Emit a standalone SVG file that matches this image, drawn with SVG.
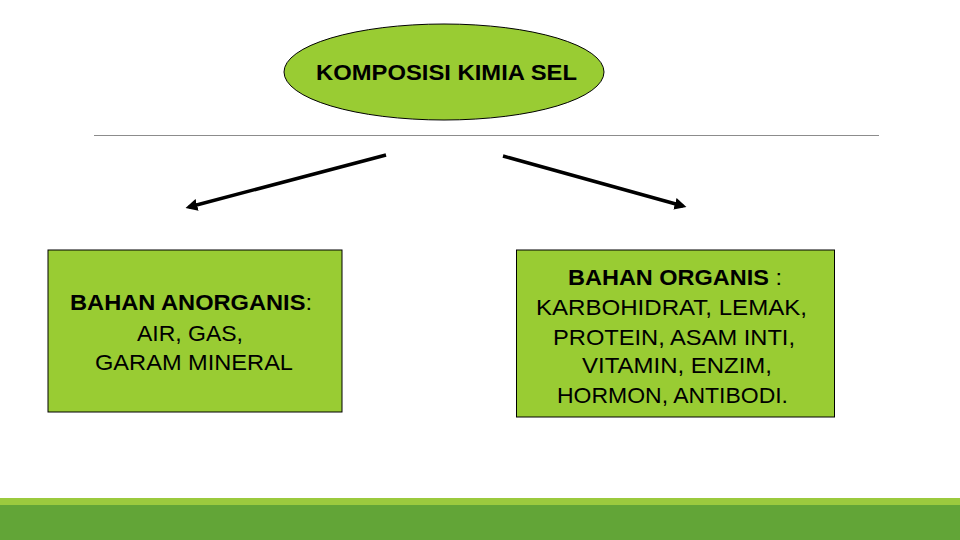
<svg xmlns="http://www.w3.org/2000/svg" width="960" height="540" viewBox="0 0 960 540">
<style>
.box{fill:#99cc33;stroke:#000;stroke-width:1}
.t{font-family:"Liberation Sans",Arial,sans-serif;font-size:22px;fill:#000;text-anchor:start}
.b{font-weight:bold}
.conn{stroke:#000;stroke-width:3.5;fill:none;marker-end:url(#ah)}
</style>
<defs>
<marker id="ah" viewBox="0 0 10 10" refX="7" refY="5" markerWidth="3.4" markerHeight="3.4" orient="auto" markerUnits="strokeWidth">
<path d="M0,0 L10,5 L0,10 z" fill="#000"/>
</marker>
</defs>
<rect width="960" height="540" fill="#fff"/>
<rect x="0" y="498" width="960" height="7" fill="#9bca3e"/>
<rect x="0" y="505" width="960" height="35" fill="#62a537"/>
<line x1="94" y1="135.5" x2="879" y2="135.5" stroke="#8c8c8c" stroke-width="1"/>
<g id="root">
<ellipse cx="444" cy="72" rx="160" ry="48" class="box"/>
<text class="t b" x="316" y="80" textLength="261" lengthAdjust="spacingAndGlyphs" style="font-size:22.5px">KOMPOSISI KIMIA SEL</text>
</g>
<g id="connectors">
<line class="conn" x1="386" y1="155" x2="189" y2="207"/>
<line class="conn" x1="503" y1="156" x2="683" y2="206"/>
</g>
<g id="anorganis">
<rect x="48" y="250" width="294" height="162" class="box"/>
<text class="t" x="70" y="310" textLength="242" lengthAdjust="spacingAndGlyphs"><tspan class="b">BAHAN ANORGANIS</tspan>:</text>
<text class="t" x="137" y="341" textLength="106" lengthAdjust="spacingAndGlyphs">AIR, GAS,</text>
<text class="t" x="95" y="370" textLength="198" lengthAdjust="spacingAndGlyphs">GARAM MINERAL</text>
</g>
<g id="organis">
<rect x="516.5" y="250" width="318" height="167" class="box"/>
<text class="t" x="568" y="285" textLength="214" lengthAdjust="spacingAndGlyphs"><tspan class="b">BAHAN ORGANIS</tspan> :</text>
<text class="t" x="536" y="315" textLength="271" lengthAdjust="spacingAndGlyphs">KARBOHIDRAT, LEMAK,</text>
<text class="t" x="553" y="345" textLength="242" lengthAdjust="spacingAndGlyphs">PROTEIN, ASAM INTI,</text>
<text class="t" x="582" y="373" textLength="190" lengthAdjust="spacingAndGlyphs">VITAMIN, ENZIM,</text>
<text class="t" x="557" y="403" textLength="231" lengthAdjust="spacingAndGlyphs">HORMON, ANTIBODI.</text>
</g>
</svg>
